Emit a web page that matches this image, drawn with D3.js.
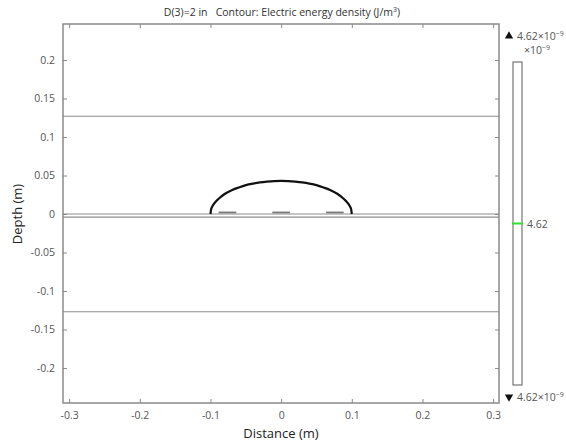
<!DOCTYPE html>
<html><head><meta charset="utf-8">
<script src="https://cdn.jsdelivr.net/npm/d3@7"></script>
<style>body{margin:0;background:#fff}svg{display:block}text{font-family:"Open Sans",sans-serif}</style>
</head><body><svg id="c" width="566" height="445"></svg>
<script>
// ---- data ----
const xTicks = [-0.3, -0.2, -0.1, 0, 0.1, 0.2, 0.3];
const yTicks = [0.2, 0.15, 0.1, 0.05, 0, -0.05, -0.1, -0.15, -0.2];
const layerDepths = [0.127, 0, -0.004, -0.127];
const arcX = [-0.1, -0.099, -0.097, -0.094, -0.09, -0.085, -0.08, -0.07, -0.06, -0.05, -0.04, -0.03, -0.02, -0.01, 0, 0.01, 0.02, 0.03, 0.04, 0.05, 0.06, 0.07, 0.08, 0.085, 0.09, 0.094, 0.097, 0.099, 0.1];
const arcY = [0, 0.0065, 0.0105, 0.0145, 0.0185, 0.0225, 0.026, 0.031, 0.0345, 0.0375, 0.0395, 0.041, 0.042, 0.0427, 0.043, 0.0427, 0.042, 0.041, 0.0395, 0.0375, 0.0345, 0.031, 0.026, 0.0225, 0.0185, 0.0145, 0.0105, 0.0065, 0];
const dashStart = [-0.0885, -0.0125, 0.0635];
const dashEnd = [-0.0635, 0.0125, 0.0885];
const dashDepth = 0.002;
const colorMax = "4.62×10", colorMid = "4.62", colorMin = "4.62×10", colorExp = "−9";
const cbarValues = [4.62];

// ---- layout ----
const svg = d3.select("#c");
const L = 63, R = 499, T = 24, B = 403;
const x = d3.scaleLinear().domain([-0.3087, 0.3083]).range([L, R]);
const y = d3.scaleLinear().domain([0.2468, -0.2455]).range([T, B]);
const axisCol = "#8a8a8a", textCol = "#555";
const fmt = d => String(+d.toFixed(3));

// layers
svg.append("g").selectAll("line").data(layerDepths).join("line")
  .attr("x1", L).attr("x2", R).attr("y1", d => y(d)).attr("y2", d => y(d))
  .attr("stroke", "#8c8c8c").attr("stroke-width", 1.2);

// dashes
svg.append("g").selectAll("line").data(dashStart).join("line")
  .attr("x1", d => x(d)).attr("x2", (d, i) => x(dashEnd[i]))
  .attr("y1", y(dashDepth)).attr("y2", y(dashDepth))
  .attr("stroke", "#7a7a7a").attr("stroke-width", 1.8);

// arc
const pts = arcX.map((v, i) => [v, arcY[i]]);
svg.append("path").datum(pts)
  .attr("d", d3.line().x(d => x(d[0])).y(d => y(d[1])).curve(d3.curveMonotoneX))
  .attr("fill", "none").attr("stroke", "#111").attr("stroke-width", 2.2);

// frame
svg.append("rect").attr("x", L).attr("y", T).attr("width", R - L).attr("height", B - T)
  .attr("fill", "none").attr("stroke", axisCol).attr("stroke-width", 1.5);

// axes
const ax = (g, a) => { g.call(a); g.select(".domain").remove();
  g.selectAll("line").attr("stroke", axisCol);
  g.selectAll("text").attr("fill", textCol).style("font-size", "10.5px").style("font-family", "Open Sans"); };
svg.append("g").attr("transform", `translate(0,${B})`)
  .call(g => ax(g, d3.axisBottom(x).tickValues(xTicks).tickFormat(fmt).tickSizeInner(-4).tickPadding(9)));
svg.append("g").attr("transform", `translate(0,${T})`)
  .call(g => ax(g, d3.axisTop(x).tickValues(xTicks).tickFormat("").tickSizeInner(-4)));
svg.append("g").attr("transform", `translate(${L},0)`)
  .call(g => ax(g, d3.axisLeft(y).tickValues(yTicks).tickFormat(fmt).tickSizeInner(-4).tickPadding(8)));
svg.append("g").attr("transform", `translate(${R},0)`)
  .call(g => ax(g, d3.axisRight(y).tickValues(yTicks).tickFormat("").tickSizeInner(-4)));

// labels
svg.append("text").attr("x", 282).attr("y", 16).attr("text-anchor", "middle")
  .attr("fill", "#333").style("font-size", "10.5px")
  .text("D(3)=2 in\u00a0\u00a0\u00a0Contour: Electric energy density (J/m")
  .append("tspan").attr("dy", -4).style("font-size", "7px").text("3")
  .select(function(){return this.parentNode;}).append("tspan").attr("dy", 4).text(")");
svg.append("text").attr("x", 281).attr("y", 438).attr("text-anchor", "middle")
  .attr("fill", "#222").style("font-size", "13px").text("Distance (m)");
svg.append("text").attr("transform", "translate(22,214) rotate(-90)").attr("text-anchor", "middle")
  .attr("fill", "#222").style("font-size", "13px").text("Depth (m)");

// colorbar
const cb = d3.scaleLinear().domain([0, 1]).range([385, 62]);
svg.append("rect").attr("x", 513).attr("y", cb(1)).attr("width", 9).attr("height", cb(0) - cb(1))
  .attr("fill", "#fff").attr("stroke", "#777").attr("stroke-width", 1.2);
svg.append("g").selectAll("line").data(cbarValues).join("line")
  .attr("x1", 512).attr("x2", 523).attr("y1", 223.5).attr("y2", 223.5)
  .attr("stroke", "#33dd33").attr("stroke-width", 2);
svg.append("text").attr("x", 527).attr("y", 227.5).attr("fill", textCol).style("font-size", "10.5px").text(colorMid);

const tri = d3.symbol().type(d3.symbolTriangle).size(30);
svg.append("path").attr("d", tri).attr("transform", "translate(509,36)").attr("fill", "#111");
svg.append("path").attr("d", tri).attr("transform", "translate(509,397) rotate(180)").attr("fill", "#111");
const t1 = svg.append("text").attr("x", 517).attr("y", 40).attr("fill", textCol).style("font-size", "10.5px").text(colorMax);
t1.append("tspan").attr("dy", -4).style("font-size", "7px").text(colorExp);
const t2 = svg.append("text").attr("x", 524).attr("y", 54).attr("fill", textCol).style("font-size", "10.5px").text("×10");
t2.append("tspan").attr("dy", -4).style("font-size", "7px").text(colorExp);
const t3 = svg.append("text").attr("x", 517).attr("y", 401).attr("fill", textCol).style("font-size", "10.5px").text(colorMin);
t3.append("tspan").attr("dy", -4).style("font-size", "7px").text(colorExp);
</script></body></html>
